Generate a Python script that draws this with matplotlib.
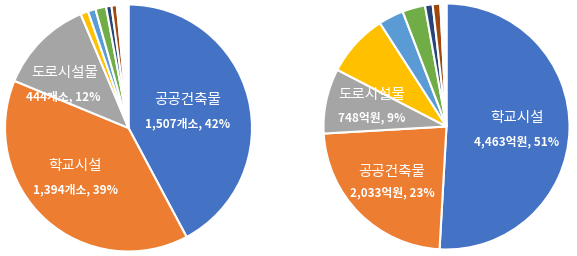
import matplotlib
matplotlib.use("Agg")
import matplotlib.pyplot as plt

plt.rcParams['font.family'] = ['Noto Sans CJK KR', 'DejaVu Sans']

# 좌: 시설 개수 (개소), 우: 금액 (억원)
left_values = [1507, 1394, 444, 36, 36, 50, 25, 25, 54]
left_colors = ["#4472C4", "#ED7D31", "#A5A5A5", "#FFC000", "#5B9BD5",
               "#70AD47", "#264478", "#9E480E", "#FFFFFF"]
left_names = ["공공건축물", "학교시설", "도로시설물"]
left_texts = ["1,507개소, 42%", "1,394개소, 39%", "444개소, 12%"]

right_values = [4463, 2033, 748, 726, 290, 262, 88, 88, 70]
right_colors = ["#4472C4", "#ED7D31", "#A5A5A5", "#FFC000", "#5B9BD5",
                "#70AD47", "#264478", "#9E480E", "#FFFFFF"]
right_names = ["학교시설", "공공건축물", "도로시설물"]
right_texts = ["4,463억원, 51%", "2,033억원, 23%", "748억원, 9%"]

# label anchor positions (pie units), as placed in the original
left_name_pos = [(0.48, 0.227), (-0.433, -0.308), (-0.514, 0.445)]
left_text_pos = [(0.48, 0.032), (-0.433, -0.502), (-0.53, 0.251)]
right_name_pos = [(0.573, 0.069), (-0.443, -0.370), (-0.606, 0.256)]
right_text_pos = [(0.573, -0.126), (-0.443, -0.541), (-0.606, 0.069)]

W, H = 577, 256
fig = plt.figure(figsize=(W / 100, H / 100), dpi=100)


def draw_pie(cx, cy, r, values, cols, names, texts, name_pos, text_pos):
    ax = fig.add_axes([(cx - r) / W, (H - cy - r) / H, 2 * r / W, 2 * r / H])
    ax.pie(values, colors=cols, startangle=90, counterclock=False, radius=1,
           wedgeprops=dict(edgecolor="white", linewidth=1.5))
    ax.set_xlim(-1, 1)
    ax.set_ylim(-1, 1)
    ax.set_aspect("equal")
    ax.axis("off")
    for n, t, p1, p2 in zip(names, texts, name_pos, text_pos):
        ax.text(p1[0], p1[1], n, ha="center", va="center", color="white",
                fontsize=10.5, fontweight="medium")
        ax.text(p2[0], p2[1], t, ha="center", va="center", color="white",
                fontsize=8.5, fontweight="bold")
    return ax


draw_pie(128.5, 128, 123.5, left_values, left_colors, left_names, left_texts,
         left_name_pos, left_text_pos)
draw_pie(446.5, 126.5, 123, right_values, right_colors, right_names, right_texts,
         right_name_pos, right_text_pos)

fig.savefig("out.png", dpi=100, facecolor="white")
